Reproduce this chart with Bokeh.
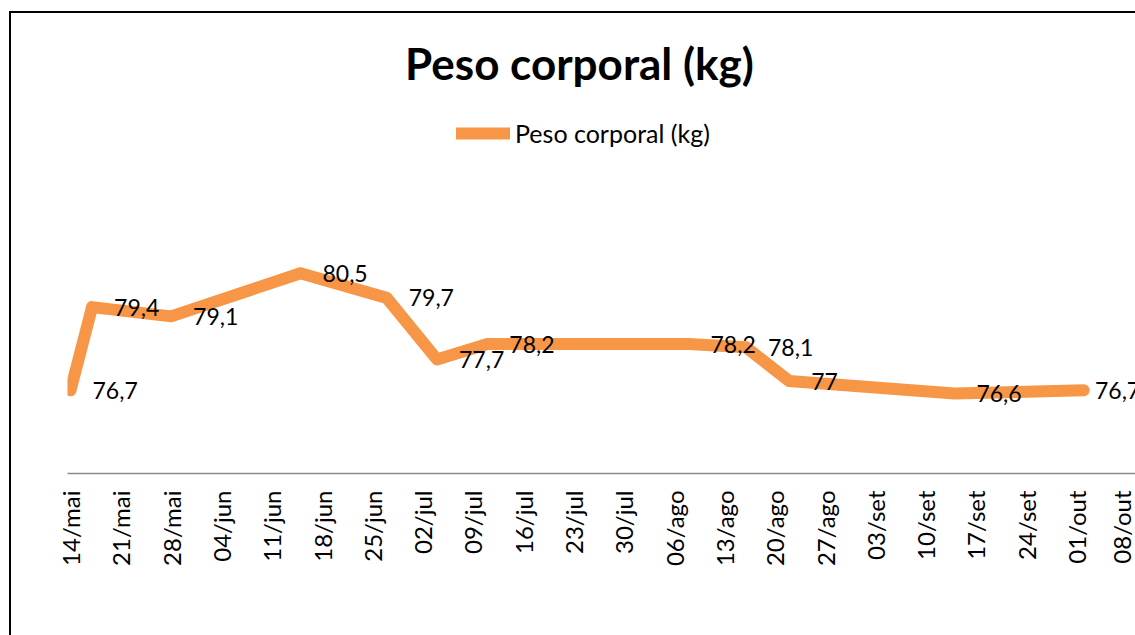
import math
import datetime as dt
from bokeh.plotting import figure
from bokeh.models import (Range1d, FixedTicker, Legend, LegendItem, ColumnDataSource,
                          Label)
from bokeh.core.properties import value
from bokeh.embed import file_html
from bokeh.resources import INLINE

# ---- data ----
dates = ["14/mai", "17/mai", "28/mai", "15/jun", "27/jun", "04/jul", "11/jul",
         "08/ago", "16/ago", "22/ago", "14/set", "02/out"]
weights = [76.7, 79.4, 79.1, 80.5, 79.7, 77.7, 78.2, 78.2, 78.1, 77.0, 76.6, 76.7]
tick_labels = ["14/mai", "21/mai", "28/mai", "04/jun", "11/jun", "18/jun", "25/jun",
               "02/jul", "09/jul", "16/jul", "23/jul", "30/jul", "06/ago", "13/ago",
               "20/ago", "27/ago", "03/set", "10/set", "17/set", "24/set", "01/out",
               "08/out"]
series_name = "Peso corporal (kg)"
title_text = "Peso corporal (kg)"

YEAR = 2018
MONTHS = {"jan": 1, "fev": 2, "mar": 3, "abr": 4, "mai": 5, "jun": 6, "jul": 7,
          "ago": 8, "set": 9, "out": 10, "nov": 11, "dez": 12}
START = dt.date(YEAR, 5, 14)


def to_day(s):
    d, m = s.split("/")
    return (dt.date(YEAR, MONTHS[m], int(d)) - START).days


xs = [to_day(s) for s in dates]
ticks = [to_day(s) for s in tick_labels]
label_txt = [f"{w:g}".replace(".", ",") for w in weights]

FONT = "Lato"
ORANGE = "#F79646"
LABEL_PX = 23

FRAME_W, FRAME_H = 1068, 460
X0, X1 = -0.42, 148.2

# data labels sit to the right of their point, but (as in the spreadsheet) are
# pushed back left so that they stay inside the chart area
CHART_RIGHT = FRAME_W + 5


def text_w(s):
    return sum((0.24 if c == "," else 0.58) for c in s) * LABEL_PX


lbl_dx = []
for xv, t in zip(xs, label_txt):
    px = (xv - X0) * FRAME_W / (X1 - X0)
    lbl_dx.append(min(22, CHART_RIGHT - text_w(t) - px))

p = figure(frame_width=FRAME_W, frame_height=FRAME_H, title=None,
           output_backend="svg", toolbar_location=None,
           x_range=Range1d(X0, X1), y_range=Range1d(74, 88.93),
           y_axis_location=None,
           min_border_left=56, min_border_right=0,
           min_border_top=0, min_border_bottom=162)
p.styles = {"margin-left": "9px", "margin-top": "11px",
            "border-left": "2px solid black", "border-top": "2px solid black"}
p.outline_line_color = None
p.grid.visible = False
p.background_fill_color = "white"
p.border_fill_color = "white"

src = ColumnDataSource(dict(x=xs, y=weights, lbl=label_txt, dx=lbl_dx))
r = p.line("x", "y", source=src, line_width=12, line_color=ORANGE,
           line_cap="round", line_join="round")
p.text("x", "y", text="lbl", source=src, x_offset="dx", text_align="left",
       text_baseline="middle", text_font=value(FONT),
       text_font_size=f"{LABEL_PX}px", text_color="black")

ax = p.xaxis[0]
ax.ticker = FixedTicker(ticks=ticks)
ax.major_label_overrides = {t: l for t, l in zip(ticks, tick_labels)}
ax.major_label_orientation = math.pi / 2
ax.axis_line_color = "#8C8C8C"
ax.axis_line_width = 1.5
ax.major_tick_line_color = None
ax.minor_tick_line_color = None
ax.major_tick_out = 0
ax.major_tick_in = 0
ax.major_label_standoff = 17
ax.major_label_text_font = FONT
ax.major_label_text_font_size = "24px"
ax.major_label_text_color = "black"

legend = Legend(items=[LegendItem(label=series_name, renderers=[r])],
                orientation="horizontal", location=(389, 325),
                border_line_color=None, background_fill_alpha=0,
                label_text_font=FONT, label_text_font_size="25px",
                label_text_color="black",
                glyph_width=54, glyph_height=30, label_height=30,
                label_standoff=5, padding=0, margin=0)
p.add_layout(legend, "center")

p.add_layout(Label(x=512, y=411, x_units="screen", y_units="screen",
                   text=title_text, text_align="center",
                   text_baseline="alphabetic", text_font=FONT,
                   text_font_size="44px", text_font_style="bold",
                   text_color="black"))

open("out.html", "w").write(file_html(p, INLINE))
